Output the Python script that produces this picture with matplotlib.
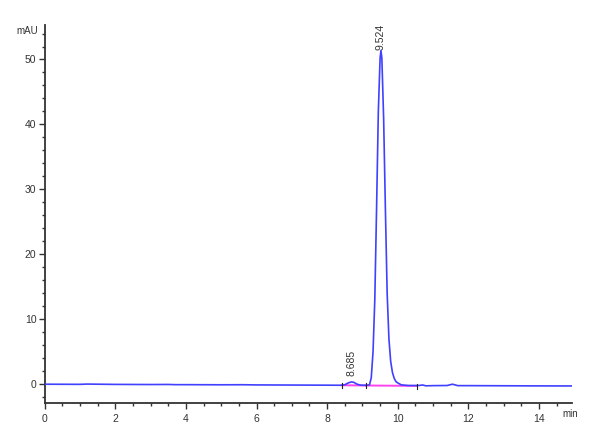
import matplotlib
matplotlib.use("Agg")
import matplotlib.pyplot as plt
from matplotlib.ticker import MultipleLocator

# Chromatogram trace (time in min, absorbance in mAU)
time = [0.0, 1.0, 1.2, 2.0, 3.0, 3.5, 3.7, 4.0, 5.0, 5.6, 6.0, 7.0, 8.0, 8.4,
        8.5, 8.6, 8.685, 8.75, 8.85, 8.95, 9.1, 9.2, 9.25, 9.30, 9.35, 9.40, 9.45,
        9.50, 9.524, 9.55, 9.60, 9.65, 9.70, 9.75, 9.80, 9.85, 9.90, 9.95, 10.0,
        10.1, 10.3, 10.6, 10.7, 10.8, 11.0, 11.4, 11.55, 11.7, 12.0, 13.0, 14.0, 14.93]
signal = [0.0, -0.02, 0.02, -0.03, -0.05, -0.04, -0.07, -0.07, -0.09, -0.08, -0.11, -0.13, -0.15, -0.16,
          -0.08, 0.2, 0.35, 0.3, 0.0, -0.15, -0.17, -0.1, 1.0, 5.0, 13.0, 27.0, 42.0,
          50.2, 51.4, 50.2, 41.0, 27.0, 14.0, 7.0, 3.5, 1.8, 0.9, 0.4, 0.2,
          -0.1, -0.2, -0.2, -0.12, -0.25, -0.22, -0.2, 0.0, -0.22, -0.22, -0.24, -0.26, -0.27]

# Integration baselines (start, end) and their levels
base_t = [[8.41, 9.10], [9.10, 10.54]]
base_y = [[-0.16, -0.2], [-0.2, -0.26]]
event_t = [8.41, 9.10, 10.54]
event_y = [-0.16, -0.2, -0.26]

# Peak labels
peak_rt = [8.685, 9.524]
peak_h = [0.35, 51.4]
peak_lab = ["8.685", "9.524"]
label_gap = [4, 0]

xticks = [0, 2, 4, 6, 8, 10, 12, 14]
yticks = [0, 10, 20, 30, 40, 50]

plt.rcParams['font.family'] = ['Liberation Sans Narrow', 'Liberation Sans', 'DejaVu Sans']
fig = plt.figure(figsize=(6.0, 4.4), dpi=100)
ax = fig.add_axes([0.0745, 0.084, 0.8785, 0.859])

ax.plot(time, signal, color='#4040ff', lw=1.2, zorder=3)
for bt, by in zip(base_t, base_y):
    ax.plot(bt, by, color='#ff44ee', lw=1.4, zorder=2)
for et, ey in zip(event_t, event_y):
    ax.plot([et, et], [ey - 0.45, ey + 0.35], color='#222222', lw=0.8, zorder=4)

for rt, h, lab, g in zip(peak_rt, peak_h, peak_lab, label_gap):
    ax.annotate(lab, (rt, h), xytext=(0, g), textcoords='offset points',
                rotation=90, ha='center', va='bottom', fontsize=7.5, color='#333333')

ax.set_xlim(0, 14.93)
ax.set_ylim(-2.9, 55.3)
ax.set_xticks(xticks)
ax.set_yticks(yticks)
ax.xaxis.set_minor_locator(MultipleLocator(0.5))
ax.yaxis.set_minor_locator(MultipleLocator(2))
for s in ['top', 'right']:
    ax.spines[s].set_visible(False)
for s in ['left', 'bottom']:
    ax.spines[s].set_color('#333333')
    ax.spines[s].set_linewidth(1.3)
ax.tick_params(axis='both', which='major', direction='out', length=4, width=1.0,
               colors='#333333', labelsize=7.5, pad=2)
ax.tick_params(axis='both', which='minor', direction='out', length=2.5, width=1.0,
               colors='#333333')
ax.tick_params(axis='x', pad=4)

fig.text(38 / 600, 1 - 31 / 440, 'mAU', ha='right', va='center', fontsize=7, color='#333333')
fig.text(562 / 600, 1 - 414 / 440, 'min', ha='left', va='center', fontsize=7, color='#333333')

fig.savefig('out.png', dpi=100)
